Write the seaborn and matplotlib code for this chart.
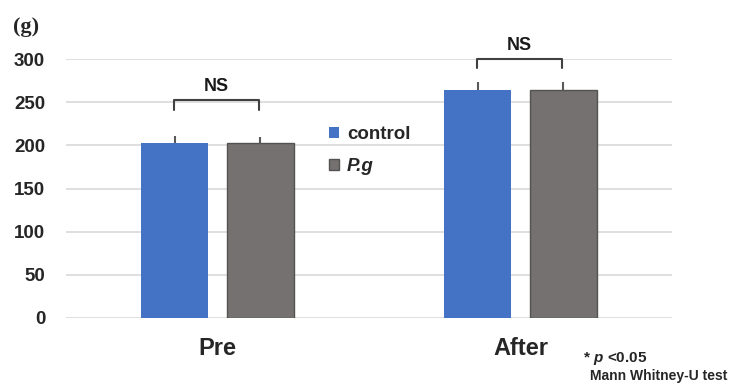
import matplotlib
matplotlib.use("Agg")
import matplotlib.pyplot as plt
from matplotlib.patches import Patch
import seaborn as sns
import pandas as pd

# ---- data ----
times = ["Pre", "After"]
groups = ["control", "P.g"]
mean_control = [202.7, 264.0]
mean_pg = [203.0, 264.0]
err_control = [8.0, 9.7]
err_pg = [7.2, 9.0]
sig_labels = ["NS", "NS"]
bracket_y = [252, 300]
yticks = [0, 50, 100, 150, 200, 250, 300]

colors = {"control": "#4472C4", "P.g": "#767171"}

rows = []
for i, t in enumerate(times):
    rows.append({"time": t, "group": "control", "weight": mean_control[i], "err": err_control[i]})
    rows.append({"time": t, "group": "P.g", "weight": mean_pg[i], "err": err_pg[i]})
df = pd.DataFrame(rows)

sns.set_style("white")
plt.rcParams["font.family"] = ["Liberation Sans", "DejaVu Sans"]
plt.rcParams["font.weight"] = "bold"
plt.rcParams["mathtext.fontset"] = "custom"
plt.rcParams["mathtext.it"] = "Liberation Sans:italic:bold"
plt.rcParams["mathtext.rm"] = "Liberation Sans:bold"

fig = plt.figure(figsize=(7.35, 3.89), dpi=100)
W, H = 735, 389
ax = fig.add_axes([66 / W, 1 - 318 / H, (672 - 66) / W, (318 - 59) / H])

sns.barplot(data=df, x="time", y="weight", hue="group", order=times,
            hue_order=groups, palette=colors, width=0.567, gap=0.21,
            errorbar=None, legend=False, ax=ax, saturation=1)

# error bars (upper only) from bar patches
bars = sorted([p for p in ax.patches], key=lambda p: p.get_x())
for p, (_, r) in zip(bars, df.iterrows()):
    xc = p.get_x() + p.get_width() / 2
    ax.errorbar([xc], [r["weight"]], yerr=[[0], [r["err"]]], fmt="none",
                ecolor="#595959", elinewidth=1.5, capsize=0, zorder=3)
    if r["group"] == "P.g":
        p.set_edgecolor("#555252")
        p.set_linewidth(1.0)
    else:
        p.set_edgecolor("none")

ax.set_xlim(-0.5, 1.5)
ax.set_ylim(0, 300)
ax.set_yticks(yticks)
ax.yaxis.grid(True, color="#D9D9D9", linewidth=1.2)
ax.set_axisbelow(True)
for s in ax.spines.values():
    s.set_visible(False)
ax.tick_params(axis="y", length=0, pad=15, labelsize=13.5)
ax.tick_params(axis="x", length=0, pad=13.5, labelsize=17)
for lab in ax.get_yticklabels() + ax.get_xticklabels():
    lab.set_fontweight("bold")
ax.set_xlabel("")
ax.set_ylabel("")

# significance brackets
for i, (lbl, by) in enumerate(zip(sig_labels, bracket_y)):
    x0, x1 = i - 0.142, i + 0.137
    ax.plot([x0, x0, x1, x1], [by - 11, by, by, by - 11], color="#404040",
            linewidth=1.5, clip_on=False, zorder=4)
    ax.text((x0 + x1) / 2, by + 16, lbl, ha="center", va="center",
            fontsize=13, fontweight="bold", color="#1a1a1a")

# legend
handles = [Patch(facecolor=colors[g], edgecolor=("#555252" if g == "P.g" else "none")) for g in groups]
leg = ax.legend(handles, groups, loc="upper left",
                bbox_to_anchor=(329 / W, 1 - 126 / H), bbox_transform=fig.transFigure,
                frameon=False, fontsize=13.5, handlelength=0.55, handleheight=0.55,
                handletextpad=0.4, labelspacing=0.8, borderpad=0, borderaxespad=0)
for t in leg.get_texts():
    t.set_fontweight("bold")
leg.get_texts()[1].set_fontstyle("italic")

# unit label
fig.text(26 / W, 1 - 27 / H, "(g)", ha="center", va="center", fontsize=16,
         family=["Liberation Serif", "DejaVu Serif"], fontweight="bold")

# footnote
fig.text(583 / W, 1 - 362 / H, r"$*\ \mathit{p}$ <0.05", ha="left", va="baseline", fontsize=11,
         fontweight="bold")
fig.text(590 / W, 1 - 380 / H, "Mann Whitney-U test", ha="left", va="baseline", fontsize=10,
         fontweight="bold")

fig.savefig("out.png", dpi=100)
